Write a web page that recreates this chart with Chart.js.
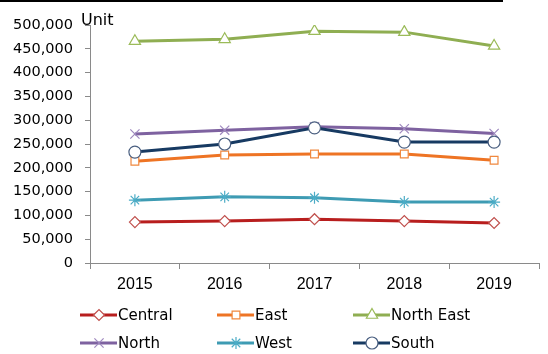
<!DOCTYPE html>
<html>
<head>
<meta charset="utf-8">
<script src="https://cdn.jsdelivr.net/npm/chart.js@4/dist/chart.umd.min.js"></script>
<style>
  html, body { margin: 0; padding: 0; background: #fff; }
  #wrap { width: 548px; height: 354px; position: relative; }
</style>
</head>
<body>
<div id="wrap"><canvas id="c" width="548" height="354"></canvas></div>
<script>
const categories = ['2015', '2016', '2017', '2018', '2019'];
const seriesNames = ['Central', 'East', 'North East', 'North', 'West', 'South'];
const central   = [86000, 88000, 92000, 88000, 84000];
const east      = [214000, 227000, 229000, 229000, 216000];
const northEast = [466000, 470000, 487000, 485000, 456000];
const north     = [271000, 279000, 286000, 282000, 272000];
const west      = [132000, 139000, 137000, 128000, 128000];
const south     = [233000, 250000, 284000, 254000, 254000];
const yTicks    = [0, 50000, 100000, 150000, 200000, 250000, 300000, 350000, 400000, 450000, 500000];
const unitLabel = 'Unit';

const styles = [
  { line: '#B81E1E', marker: '#C0504D', point: 'rectRot', r: 5.5 },
  { line: '#EE7424', marker: '#F0883E', point: 'rect', r: 5.5 },
  { line: '#8FAE52', marker: '#9BBB59', point: 'triangle', r: 6.5 },
  { line: '#7E62A0', marker: '#9E88BE', point: 'crossRot', r: 6.5 },
  { line: '#3E9BB3', marker: '#4BACC6', point: 'star', r: 6 },
  { line: '#173A62', marker: '#4A5F80', point: 'circle', r: 6 }
];
const seriesData = [central, east, northEast, north, west, south];

const datasets = seriesNames.map((name, i) => ({
  label: name,
  data: seriesData[i],
  borderColor: styles[i].line,
  borderWidth: 3,
  pointStyle: styles[i].point,
  pointRadius: styles[i].r,
  pointHoverRadius: styles[i].r,
  pointBackgroundColor: '#ffffff',
  pointBorderColor: styles[i].marker,
  pointBorderWidth: 1.2,
  tension: 0,
  order: seriesNames.length - i
}));

const extras = {
  id: 'extras',
  afterDraw(chart) {
    const ctx = chart.ctx;
    ctx.save();
    ctx.fillStyle = '#000';
    ctx.fillRect(0, 0, 503, 2);
    ctx.font = '16px "DejaVu Sans"';
    ctx.fillStyle = '#000';
    ctx.textAlign = 'left';
    ctx.textBaseline = 'middle';
    ctx.fillText(unitLabel, 81, 21);
    const colX = [80, 217, 353];
    const rowY = [315, 343];
    ctx.font = '15px "DejaVu Sans"';
    seriesNames.forEach((name, i) => {
      const x = colX[i % 3];
      const y = rowY[Math.floor(i / 3)];
      ctx.strokeStyle = styles[i].line;
      ctx.lineWidth = 3;
      ctx.beginPath();
      ctx.moveTo(x, y);
      ctx.lineTo(x + 37, y);
      ctx.stroke();
      ctx.fillStyle = '#fff';
      ctx.strokeStyle = styles[i].marker;
      ctx.lineWidth = 1.2;
      Chart.helpers.drawPoint(ctx, {pointStyle: styles[i].point, radius: styles[i].r, rotation: 0, borderWidth: 1.2}, x + 19, y);
      ctx.fillStyle = '#000';
      ctx.textBaseline = 'middle';
      ctx.fillText(name, x + 38, y + 1);
    });
    ctx.restore();
  }
};

new Chart(document.getElementById('c'), {
  type: 'line',
  data: { labels: categories, datasets },
  options: {
    responsive: false,
    animation: false,
    events: [],
    layout: { padding: { left: 0, top: 25, right: 9, bottom: 61 } },
    plugins: { legend: { display: false }, tooltip: { enabled: false } },
    scales: {
      x: {
        offset: true,
        grid: { offset: true, drawOnChartArea: false, drawTicks: true, tickLength: 6, color: '#8a8a8a', lineWidth: 1 },
        border: { color: '#8a8a8a', width: 1 },
        ticks: { color: '#000', font: { family: '"Liberation Sans", Arial', size: 16 }, padding: 6, maxRotation: 0 },
        afterFit(s) { s.height = 30; }
      },
      y: {
        min: 0,
        max: 500000,
        afterBuildTicks(s) { s.ticks = yTicks.map(v => ({ value: v })); },
        grid: { drawOnChartArea: false, drawTicks: true, tickLength: 5, color: '#8a8a8a', lineWidth: 1 },
        border: { color: '#8a8a8a', width: 1 },
        ticks: {
          color: '#000',
          font: { family: '"DejaVu Sans"', size: 14.5 },
          padding: 12,
          callback: v => v.toLocaleString('en-US')
        },
        afterFit(s) { s.width = 90; }
      }
    }
  },
  plugins: [extras]
});
</script>
</body>
</html>
